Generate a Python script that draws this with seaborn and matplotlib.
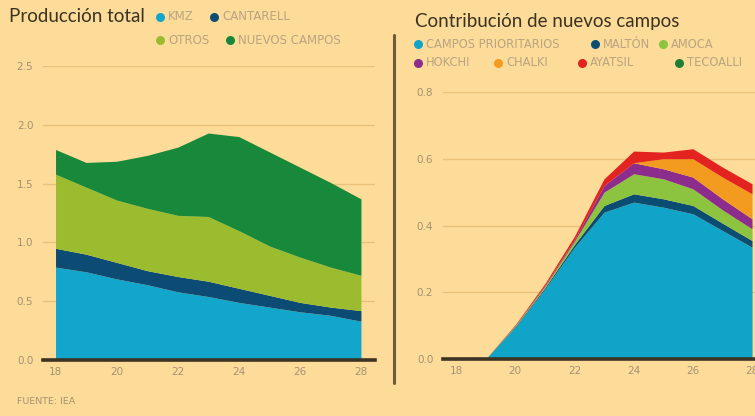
import matplotlib
matplotlib.use("Agg")
import matplotlib.pyplot as plt
import seaborn as sns
import pandas as pd

# ---------------- data ----------------
years = [18, 19, 20, 21, 22, 23, 24, 25, 26, 27, 28]
xticks = [18, 20, 22, 24, 26, 28]

# Producción total (stack tops)
kmz_top = [0.79, 0.75, 0.69, 0.64, 0.58, 0.54, 0.49, 0.45, 0.41, 0.38, 0.33]
cantarell_top = [0.95, 0.90, 0.83, 0.76, 0.71, 0.67, 0.61, 0.55, 0.49, 0.45, 0.42]
otros_top = [1.58, 1.47, 1.36, 1.29, 1.23, 1.22, 1.10, 0.97, 0.875, 0.79, 0.72]
total_top = [1.79, 1.68, 1.69, 1.74, 1.81, 1.93, 1.90, 1.77, 1.64, 1.51, 1.37]
left_names = ["KMZ", "CANTARELL", "OTROS", "NUEVOS CAMPOS"]
left_colors = ["#12A6CC", "#0C4C74", "#9CBC2F", "#18893A"]
left_yticks = [0.0, 0.5, 1.0, 1.5, 2.0, 2.5]

# Contribución de nuevos campos (layer thicknesses)
prioritarios = [0.0, 0.0, 0.096, 0.21, 0.335, 0.44, 0.47, 0.455, 0.435, 0.385, 0.335]
malton = [0.0, 0.0, 0.002, 0.004, 0.008, 0.02, 0.025, 0.025, 0.025, 0.022, 0.02]
amoca = [0.0, 0.0, 0.002, 0.004, 0.01, 0.04, 0.06, 0.06, 0.05, 0.04, 0.035]
hokchi = [0.0, 0.0, 0.001, 0.003, 0.005, 0.02, 0.033, 0.03, 0.035, 0.033, 0.03]
chalki = [0.0, 0.0, 0.0, 0.0, 0.0, 0.0, 0.0, 0.03, 0.055, 0.065, 0.075]
ayatsil = [0.0, 0.0, 0.002, 0.005, 0.01, 0.02, 0.035, 0.02, 0.03, 0.03, 0.03]
tecoalli = [0.0, 0.0, 0.0, 0.0, 0.0, 0.0, 0.0, 0.0, 0.0, 0.0, 0.0]
right_names = ["CAMPOS PRIORITARIOS", "MALTÓN", "AMOCA", "HOKCHI", "CHALKI", "AYATSIL", "TECOALLI"]
right_colors = ["#10A4C8", "#0B4D72", "#8CC43F", "#8C2C8C", "#F39B1F", "#E3231F", "#1E7F36"]
right_yticks = [0.0, 0.2, 0.4, 0.6, 0.8]

left_title = "Producción total"
right_title = "Contribución de nuevos campos"
source = "FUENTE: IEA"

# ---------------- data frames ----------------
left_df = pd.DataFrame({"year": years, "kmz": kmz_top, "cantarell": cantarell_top,
                        "otros": otros_top, "total": total_top})
left_layers = [left_df["kmz"],
               left_df["cantarell"] - left_df["kmz"],
               left_df["otros"] - left_df["cantarell"],
               left_df["total"] - left_df["otros"]]
right_df = pd.DataFrame({"year": years, "p": prioritarios, "m": malton, "a": amoca,
                         "h": hokchi, "c": chalki, "y": ayatsil, "t": tecoalli})
right_layers = [right_df[k] for k in ["p", "m", "a", "h", "c", "y", "t"]]

# ---------------- style ----------------
BG = "#FDDB98"
GRID = "#E9C37C"
TICK = "#A39273"
LEG = "#B9A582"
DARK = "#3C3323"

sns.set_theme(style="white")
plt.rcParams["font.family"] = ["DejaVu Sans"]

W, H = 755, 416
fig = plt.figure(figsize=(W / 100, H / 100), dpi=100, facecolor=BG)


def frac_box(x0, x1, y_bottom, y_top):
    return [x0 / W, 1 - y_bottom / H, (x1 - x0) / W, (y_bottom - y_top) / H]


axL = fig.add_axes(frac_box(43, 375, 360, 66))
axR = fig.add_axes(frac_box(443, 755, 359, 92))

axL.stackplot(left_df["year"], *left_layers, colors=left_colors, linewidth=0, zorder=2)
axR.stackplot(right_df["year"], *right_layers, colors=right_colors, linewidth=0, zorder=2)

axL.set_xlim(17.59, 28.46)
axL.set_ylim(0, 2.5)
axL.set_yticks(left_yticks)
axL.set_yticklabels([f"{v:.1f}" for v in left_yticks])

axR.set_xlim(17.56, 28.10)
axR.set_ylim(0, 0.8)
axR.set_yticks(right_yticks)
axR.set_yticklabels([f"{v:.1f}" for v in right_yticks])

for ax in (axL, axR):
    ax.set_facecolor(BG)
    ax.set_xticks(xticks)
    ax.set_xticklabels([str(t) for t in xticks])
    ax.grid(axis="y", color=GRID, linewidth=1.0, zorder=0)
    ax.grid(axis="x", visible=False)
    ax.set_axisbelow(True)
    for s in ["top", "right", "left"]:
        ax.spines[s].set_visible(False)
    ax.spines["bottom"].set_color(DARK)
    ax.spines["bottom"].set_linewidth(2.6)
    ax.spines["bottom"].set_zorder(5)
    ax.tick_params(axis="both", length=0, labelsize=7.5, labelcolor=TICK)
    ax.tick_params(axis="y", pad=7)
    ax.tick_params(axis="x", pad=5)

# separator
fig.add_artist(plt.Line2D([394 / W, 394 / W], [1 - 35 / H, 1 - 383 / H],
                          color="#6E5B3A", linewidth=2.2))

# titles
fig.text(9 / W, 1 - 17 / H, left_title, fontsize=13.5, color="#3A3222",
         va="center", ha="left", family=["Lato", "DejaVu Sans"])
fig.text(415 / W, 1 - 21 / H, right_title, fontsize=13.5, color="#3A3222",
         va="center", ha="left", family=["Lato", "DejaVu Sans"])


def legend_item(xm, ym, color, label, fs):
    fig.add_artist(plt.Line2D([xm / W], [1 - ym / H], marker="o", markersize=6.5,
                              markerfacecolor=color, markeredgewidth=0, linestyle="none"))
    fig.text((xm + 8) / W, 1 - ym / H, label, fontsize=fs, color=LEG,
             va="center", ha="left")


left_pos = [(160, 17), (214, 17), (160, 40), (230, 40)]
for (xm, ym), c, n in zip(left_pos, left_colors, left_names):
    legend_item(xm, ym, c, n, 8.5)

right_pos = [(418, 44), (595, 44), (663, 44), (418, 63), (498, 63), (582, 63), (679, 63)]
for (xm, ym), c, n in zip(right_pos, right_colors, right_names):
    legend_item(xm, ym, c, n, 8.3)

fig.text(17 / W, 1 - 401 / H, source, fontsize=6.8, color=TICK, va="center", ha="left")

fig.savefig("out.png", dpi=100, facecolor=BG)
